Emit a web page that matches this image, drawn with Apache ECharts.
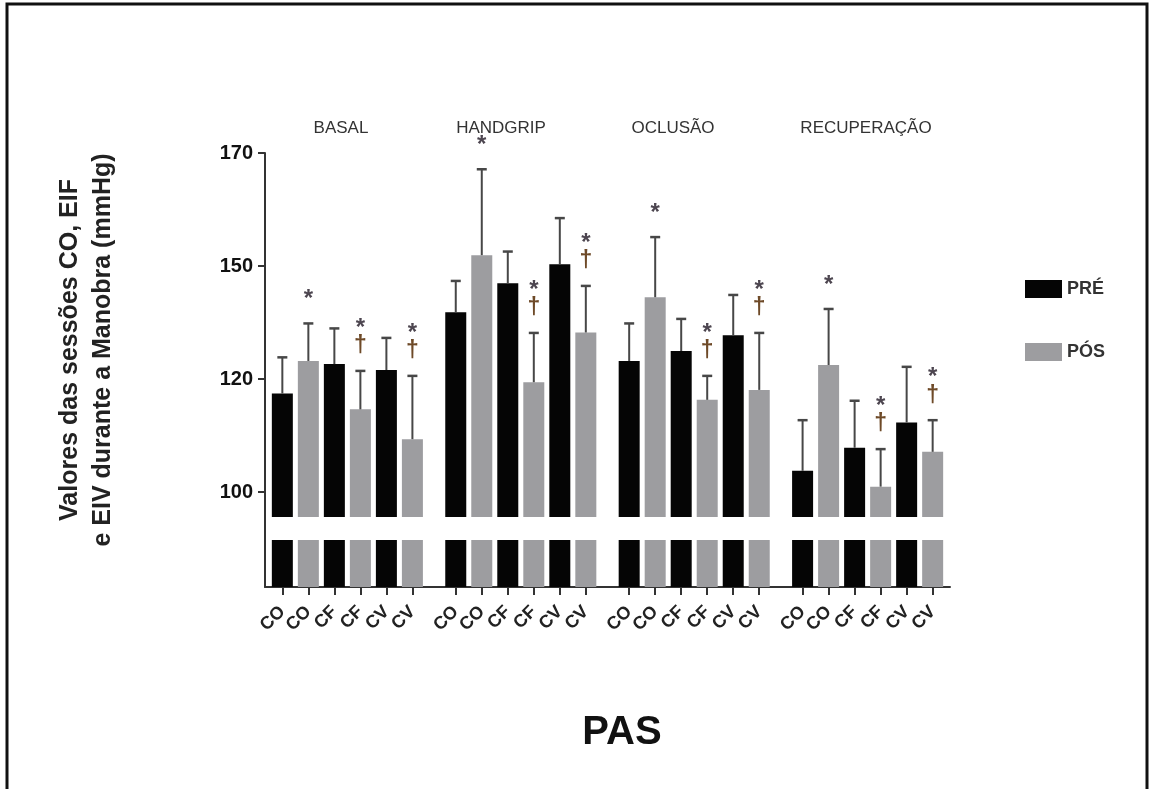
<!DOCTYPE html>
<html>
<head>
<meta charset="utf-8">
<script src="https://cdn.jsdelivr.net/npm/echarts@6/dist/echarts.min.js"></script>
<style>
html,body{margin:0;padding:0;background:#fff;}
#c{width:1153px;height:789px;}
</style>
</head>
<body>
<div id="c"></div>
<script>
// ---- data ----
const groups = ['BASAL', 'HANDGRIP', 'OCLUSÃO', 'RECUPERAÇÃO'];
const sessions = ['CO', 'CF', 'CV'];
// values in axis units (the axis' evenly spaced ticks are labelled 100,120,150,170)
const preMean  = [121.8, 128.3, 127.0, 139.8, 146.2, 150.4, 129.0, 131.2, 134.7, 104.7, 109.8, 115.4];
const preUpper = [129.8, 136.2, 134.1, 146.7, 153.2, 160.6, 137.3, 138.3, 143.6, 115.9, 120.2, 127.7];
const posMean  = [129.0, 118.3, 111.7, 152.4, 124.3, 135.3, 143.1, 120.4, 122.6, 128.1, 101.2, 108.9];
const posUpper = [137.3, 126.8, 125.7, 171.4, 135.2, 145.6, 156.4, 125.7, 135.2, 140.5, 109.5, 115.9];
const posStar   = [1, 1, 1, 1, 1, 1, 1, 1, 1, 1, 1, 1];
const posDagger = [0, 1, 1, 0, 1, 1, 0, 1, 1, 0, 1, 1];
const yTickValues = [100, 125, 150, 175];
const yTickLabels = ['100', '120', '150', '170'];
const seriesNames = ['PRÉ', 'PÓS'];

// ---- layout of category slots ----
const SLOTS_PER_BAR = 3, SLOTS_PER_GROUP = 20, FIRST_SLOT = 2, TOTAL_SLOTS = 80;
const slotIds = [], slotLabel = [];
for (let i = 0; i < TOTAL_SLOTS; i++) { slotIds.push(String(i)); slotLabel.push(''); }
const preData = new Array(TOTAL_SLOTS).fill(null);
const posData = new Array(TOTAL_SLOTS).fill(null);
const errData = [];
groups.forEach((g, gi) => {
  sessions.forEach((s, si) => {
    const k = gi * 3 + si;
    const iPre = FIRST_SLOT + gi * SLOTS_PER_GROUP + (si * 2) * SLOTS_PER_BAR;
    const iPos = iPre + SLOTS_PER_BAR;
    slotLabel[iPre] = s; slotLabel[iPos] = s;
    preData[iPre] = preMean[k];
    posData[iPos] = posMean[k];
    errData.push([iPre, preMean[k], preUpper[k], 0, 0]);
    errData.push([iPos, posMean[k], posUpper[k], posStar[k], posDagger[k]]);
  });
});
const showSlot = (idx) => slotLabel[idx] !== '';

const FONT = '"Liberation Sans", Arial, sans-serif';
const chart = echarts.init(document.getElementById('c'), null, {renderer: 'canvas'});

const option = {
  animation: false,
  backgroundColor: '#ffffff',
  grid: {left: 265, top: 153, width: 685, height: 434, containLabel: false, outerBoundsMode: 'none'},
  legend: {
    data: seriesNames, orient: 'vertical', left: 1020, top: 275,
    itemWidth: 37, itemHeight: 18, itemGap: 45, icon: 'rect',
    textStyle: {fontSize: 18, fontWeight: 'bold', color: '#333', fontFamily: FONT},
    selectedMode: false
  },
  xAxis: {
    type: 'category', data: slotIds, boundaryGap: false,
    axisLine: {lineStyle: {color: '#333', width: 2}},
    axisTick: {interval: (i) => showSlot(i), length: 8, lineStyle: {color: '#333', width: 2}},
    axisLabel: {interval: (i) => showSlot(i), rotate: 45, formatter: (v) => slotLabel[+v],
      fontSize: 18, fontWeight: 'bold', color: '#222', margin: 22, fontFamily: FONT},
    splitLine: {show: false}
  },
  yAxis: {
    type: 'value', min: 79, max: 175,
    axisLine: {show: true, lineStyle: {color: '#333', width: 2}},
    axisTick: {show: true, customValues: yTickValues, length: 7, lineStyle: {color: '#333', width: 2}},
    axisLabel: {customValues: yTickValues, formatter: (v) => yTickLabels[yTickValues.indexOf(v)] || '',
      fontSize: 20, fontWeight: 'bold', color: '#111', margin: 12, fontFamily: FONT},
    splitLine: {show: false}
  },
  series: [
    {name: seriesNames[0], type: 'bar', data: preData, barWidth: 21, barGap: '-100%',
      itemStyle: {color: '#050505'}, z: 2},
    {name: seriesNames[1], type: 'bar', data: posData, barWidth: 21, barGap: '-100%',
      itemStyle: {color: '#9d9da0'}, z: 2},
    {name: 'err', type: 'custom', data: errData, z: 5, encode: {x: 0, y: [1, 2]},
      renderItem: function (params, api) {
        const x = api.value(0), m = api.value(1), u = api.value(2);
        const star = api.value(3), dag = api.value(4);
        const pm = api.coord([x, m]), pu = api.coord([x, u]);
        const ch = [
          {type: 'line', shape: {x1: pm[0], y1: pm[1], x2: pu[0], y2: pu[1]}, style: {stroke: '#474747', lineWidth: 2}},
          {type: 'line', shape: {x1: pu[0] - 5, y1: pu[1], x2: pu[0] + 5, y2: pu[1]}, style: {stroke: '#474747', lineWidth: 2.5}}
        ];
        const starStyle = (y) => ({type: 'text', x: pu[0], y: y,
          style: {text: '*', fill: '#4d4650', font: 'bold 24px ' + FONT, align: 'center', verticalAlign: 'middle'}});
        const dagStyle = (y) => ({type: 'text', x: pu[0], y: y,
          style: {text: '†', fill: '#6e4a28', font: 'bold 23px ' + FONT, align: 'center', verticalAlign: 'middle'}});
        if (dag) {
          ch.push(starStyle(pu[1] - 43));
          ch.push(dagStyle(pu[1] - 25));
        } else if (star) {
          ch.push(starStyle(pu[1] - 24));
        }
        return {type: 'group', children: ch};
      }
    }
  ]
};
chart.setOption(option);

// decorations: broken-axis gap, titles, group labels, frame
const gapTop = chart.convertToPixel({yAxisIndex: 0}, 94.47);
const gapBot = chart.convertToPixel({yAxisIndex: 0}, 89.38);
const xLeft = chart.convertToPixel({xAxisIndex: 0}, 0);
const xRight = chart.convertToPixel({xAxisIndex: 0}, TOTAL_SLOTS - 1);
const groupLabelX = [341, 501, 673, 866];
const graphics = [
  {type: 'rect', z: 100, shape: {x: xLeft + 2, y: gapTop, width: xRight - xLeft + 10, height: gapBot - gapTop},
    style: {fill: '#ffffff'}},
  {type: 'rect', z: 100, shape: {x: 7, y: 4, width: 1140, height: 820}, style: {fill: 'none', stroke: '#111', lineWidth: 3}},
  {type: 'text', z: 100, x: 87, y: 350, rotation: Math.PI / 2,
    style: {text: 'Valores das sessões CO, EIF\ne EIV durante a Manobra (mmHg)', font: 'bold 25px ' + FONT,
      fill: '#222', align: 'center', verticalAlign: 'middle', lineHeight: 33}},
  {type: 'text', z: 100, x: 622, y: 733,
    style: {text: 'PAS', font: 'bold 40px ' + FONT, fill: '#111', align: 'center', verticalAlign: 'middle'}}
];
groups.forEach((g, gi) => {
  graphics.push({type: 'text', z: 100, x: groupLabelX[gi], y: 128,
    style: {text: g, font: '17px ' + FONT, fill: '#333', align: 'center', verticalAlign: 'middle'}});
});
chart.setOption({graphic: graphics});
</script>
</body>
</html>
